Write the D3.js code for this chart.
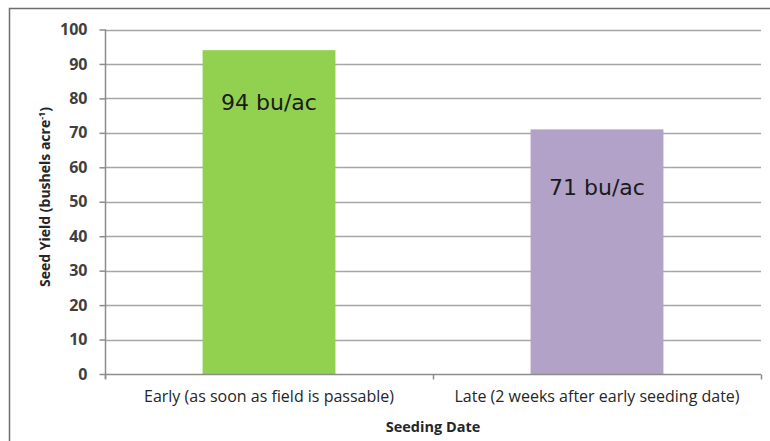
<!DOCTYPE html>
<html>
<head>
<meta charset="utf-8">
<script src="https://cdn.jsdelivr.net/npm/d3@7"></script>
<style>
	body { margin: 0; background: #fff; }
	svg { display: block; }
</style>
</head>
<body>
<div id="chart"></div>
<script>
const categories = [
	"Early (as soon as field is passable)",
	"Late (2 weeks after early seeding date)"
];
const yields = [94, 71];
const barLabels = ["94 bu/ac", "71 bu/ac"];
const barColors = ["#92d050", "#b3a2c7"];
const yTicks = [0, 10, 20, 30, 40, 50, 60, 70, 80, 90, 100];

const w = 770;
const h = 441;
const margin = { top: 29.5, right: 9, bottom: 67, left: 105 };
const font = "'Open Sans', Lato, sans-serif";

const svg = d3
	.select("#chart")
	.append("svg")
	.attr("width", w)
	.attr("height", h);

// outer frame (only top and left edges show in the crop)
svg
	.append("path")
	.attr("d", "M9.5," + h + "V8.5H" + w)
	.attr("fill", "none")
	.attr("stroke", "#6e6e6e")
	.attr("stroke-width", 1.5);

const xScale = d3
	.scaleBand()
	.domain(categories)
	.range([margin.left, w - margin.right])
	.paddingInner(0.595)
	.paddingOuter(0.2975);

const yScale = d3
	.scaleLinear()
	.domain([0, 100])
	.range([h - margin.bottom, margin.top]);

// gridlines
svg
	.append("g")
	.selectAll("line")
	.data(yTicks.slice(1))
	.enter()
	.append("line")
	.attr("x1", margin.left)
	.attr("x2", w - margin.right)
	.attr("y1", (d) => Math.round(yScale(d)) + 0.5)
	.attr("y2", (d) => Math.round(yScale(d)) + 0.5)
	.attr("stroke", "#a6a6a6")
	.attr("stroke-width", 1.5);

// bars
svg
	.selectAll(".bar")
	.data(yields)
	.enter()
	.append("rect")
	.attr("class", "bar")
	.attr("x", (d, i) => xScale(categories[i]))
	.attr("y", (d) => yScale(d))
	.attr("width", xScale.bandwidth())
	.attr("height", (d) => yScale(0) - yScale(d))
	.attr("fill", (d, i) => barColors[i]);

// labels inside bars
svg
	.selectAll(".bar-label")
	.data(yields)
	.enter()
	.append("text")
	.attr("class", "bar-label")
	.attr("x", (d, i) => xScale(categories[i]) + xScale.bandwidth() / 2)
	.attr("y", (d, i) => yScale(d) + (i === 0 ? 60 : 66))
	.attr("text-anchor", "middle")
	.attr("font-family", "'DejaVu Sans', sans-serif")
	.attr("font-size", 22)
	.attr("fill", "#1a1a1a")
	.text((d, i) => barLabels[i]);

// y axis
const yAxis = d3
	.axisLeft(yScale)
	.tickValues(yTicks)
	.tickSize(6)
	.tickPadding(12)
	.tickFormat(d3.format("d"));

const gy = svg
	.append("g")
	.attr("transform", "translate(" + (margin.left + 0.5) + ",0)")
	.call(yAxis);
gy.select(".domain")
	.attr("d", "M0," + yScale(100) + "V" + (yScale(0) + 5))
	.attr("stroke", "#8c8c8c")
	.attr("stroke-width", 1.5);
gy.selectAll(".tick line").attr("stroke", "#8c8c8c").attr("stroke-width", 1.5);
gy.selectAll(".tick text")
	.attr("font-family", font)
	.attr("font-size", 16)
	.attr("font-weight", "bold")
	.attr("fill", "#404040");

// x axis
const xAxis = d3.axisBottom(xScale).tickSize(0).tickPadding(16);
const gx = svg
	.append("g")
	.attr("transform", "translate(0," + (yScale(0) + 0.5) + ")")
	.call(xAxis);
gx.select(".domain")
	.attr("d", "M" + margin.left + ",0H" + (w - margin.right))
	.attr("stroke", "#8c8c8c")
	.attr("stroke-width", 1.5);
gx.selectAll(".tick text")
	.attr("font-family", font)
	.attr("font-size", 16)
	.attr("fill", "#262626");

// category boundary ticks
const step = xScale.step();
const bounds = [margin.left, margin.left + step, w - margin.right];
gx.selectAll(".bound")
	.data(bounds)
	.enter()
	.append("line")
	.attr("x1", (d) => d + 0.5)
	.attr("x2", (d) => d + 0.5)
	.attr("y1", 0)
	.attr("y2", 5)
	.attr("stroke", "#8c8c8c")
	.attr("stroke-width", 1.5);

// axis titles
svg
	.append("text")
	.attr("x", margin.left + step)
	.attr("y", 432)
	.attr("text-anchor", "middle")
	.attr("font-family", font)
	.attr("font-size", 14.5)
	.attr("font-weight", "bold")
	.attr("fill", "#262626")
	.text("Seeding Date");

const yTitle = svg
	.append("text")
	.attr("transform", "translate(50,197) rotate(-90)")
	.attr("text-anchor", "middle")
	.attr("font-family", font)
	.attr("font-size", 14)
	.attr("font-weight", "bold")
	.attr("fill", "#262626");
yTitle.append("tspan").text("Seed Yield (bushels acre");
yTitle.append("tspan").attr("font-size", 9).attr("dy", -5).text("-1");
yTitle.append("tspan").attr("dy", 5).text(")");
</script>
</body>
</html>
